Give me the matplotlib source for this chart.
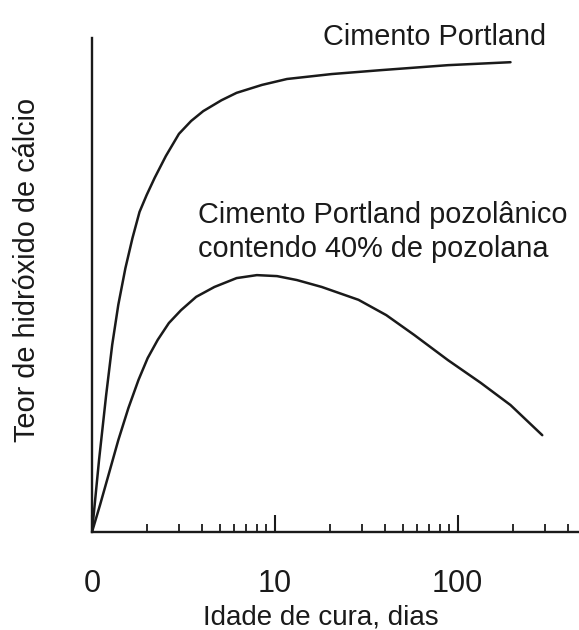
import matplotlib
matplotlib.use("Agg")
import matplotlib.pyplot as plt
from matplotlib.ticker import FixedLocator, NullFormatter

plt.rcParams['font.family'] = ['Liberation Sans', 'DejaVu Sans']

# Curing age (days, log axis starting at day 1 shown as "0") and Ca(OH)2 content (arbitrary units)
portland_days = [1, 1.093, 1.195, 1.290, 1.393, 1.523, 1.665, 1.820, 1.990, 2.203,
                 2.535, 2.991, 3.486, 4.062, 5.110, 6.184, 8.505, 11.66, 20.48,
                 38.31, 88.58, 194.9]
portland_ca = [0, 14.6, 27.7, 37.9, 46.0, 53.4, 59.5, 64.8, 68.2, 71.7,
               76.1, 80.6, 83.2, 85.2, 87.4, 88.9, 90.5, 91.7, 92.7,
               93.5, 94.5, 95.1]

pozz_days = [1, 1.107, 1.226, 1.393, 1.582, 1.797, 2.016, 2.289, 2.634, 3.069,
             3.715, 4.673, 6.184, 7.98, 10.29, 13.22, 18.08, 28.72, 40.76,
             57.88, 88.58, 133.9, 194.9, 290.8]
pozz_ca = [0, 5.5, 11.3, 18.6, 25.1, 30.8, 35.2, 38.9, 42.3, 44.9,
           47.6, 49.6, 51.4, 52.0, 51.8, 51.0, 49.6, 47.0, 43.9,
           39.9, 34.8, 30.2, 25.7, 19.6]

major_ticks = [1, 10, 100]
major_labels = ["0", "10", "100"]
minor_ticks = [2, 3, 4, 5, 6, 7, 8, 9, 20, 30, 40, 50, 60, 70, 80, 90, 200, 300, 400]

label_portland = "Cimento Portland"
label_pozz = ["Cimento Portland pozolânico", "contendo 40% de pozolana"]
xlabel = "Idade de cura, dias"
ylabel = "Teor de hidróxido de cálcio"

W, H = 579, 630
fig = plt.figure(figsize=(W / 100, H / 100), dpi=100)
ax = fig.add_axes([92 / W, 1 - 532 / H, 1 - 92 / W, (532 - 38) / H])

ink = "#1a1a1a"
ax.plot(portland_days, portland_ca, color=ink, lw=1.8,
        solid_capstyle="round", solid_joinstyle="round")
ax.plot(pozz_days, pozz_ca, color=ink, lw=1.8,
        solid_capstyle="round", solid_joinstyle="round")

ax.set_xscale("log")
ax.set_xlim(1, 462)
ax.set_ylim(0, 100)

for s in ("top", "right"):
    ax.spines[s].set_visible(False)
for s in ("left", "bottom"):
    ax.spines[s].set_linewidth(1.7)
    ax.spines[s].set_color(ink)

ax.xaxis.set_major_locator(FixedLocator(major_ticks))
ax.set_xticklabels(major_labels)
ax.xaxis.set_minor_locator(FixedLocator(minor_ticks))
ax.xaxis.set_minor_formatter(NullFormatter())
ax.tick_params(axis="x", which="major", direction="in", length=12, width=1.5,
               color=ink, labelsize=22, labelcolor=ink, pad=27)
ax.tick_params(axis="x", which="minor", direction="in", length=5.5, width=1.3, color=ink)
ax.set_yticks([])

fs = 20.8
fig.text(323 / W, 1 - 45 / H, label_portland, fontsize=fs, color=ink,
         ha="left", va="baseline")
fig.text(198 / W, 1 - 223 / H, label_pozz[0], fontsize=fs, color=ink,
         ha="left", va="baseline")
fig.text(198 / W, 1 - 257 / H, label_pozz[1], fontsize=fs, color=ink,
         ha="left", va="baseline")

fig.text(321 / W, 1 - 624 / H, xlabel, fontsize=20, color=ink,
         ha="center", va="baseline")
fig.text(27 / W, 1 - 270 / H, ylabel, fontsize=fs, color=ink,
         ha="center", va="center", rotation=90)

fig.savefig("out.png", dpi=100)
